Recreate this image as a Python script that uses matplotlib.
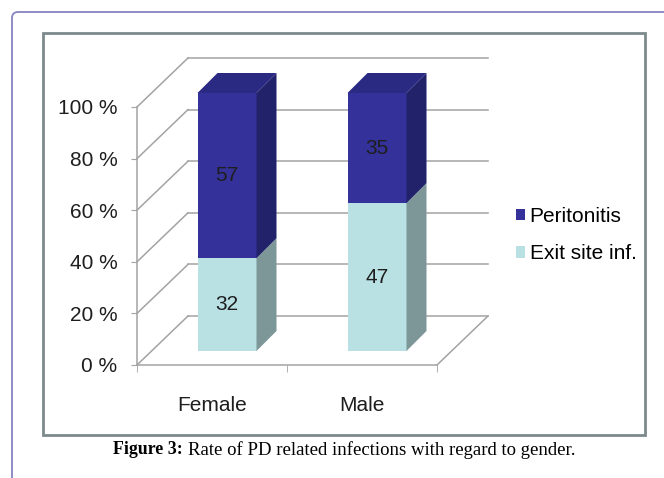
import matplotlib
matplotlib.use("Agg")
import matplotlib.pyplot as plt
from matplotlib.patches import Polygon, Rectangle, FancyBboxPatch, Patch

plt.rcParams['font.family'] = ['Liberation Sans', 'DejaVu Sans']

# data
categories = ['Female', 'Male']
exit_site = [32, 47]
peritonitis = [57, 35]
series_names = ['Peritonitis', 'Exit site inf.']
y_ticks = [0, 20, 40, 60, 80, 100]
y_labels = ['0 %', '20 %', '40 %', '60 %', '80 %', '100 %']

# colours
peri_front, peri_side, peri_top = '#34329a', '#22226a', '#2b2a82'
exit_front, exit_side = '#b9e1e4', '#7d9698'
grid_c = '#a3a3a3'
fs = 15

W, H = 664, 478
fig = plt.figure(figsize=(W / 100, H / 100), dpi=100)

# page frame + chart box (pixel space)
bg = fig.add_axes([0, 0, 1, 1])
bg.set_xlim(0, W)
bg.set_ylim(H, 0)
bg.axis('off')
bg.add_patch(FancyBboxPatch((12, 12), 720, 540, boxstyle='round,pad=0,rounding_size=6',
                            fc='white', ec='#8784c0', lw=1.3))
bg.add_patch(Rectangle((43, 33), 602, 402, fc='white', ec='#7d8a8c', lw=2))

# plot area = front face of the 3d box
ax = fig.add_axes([137 / W, (H - 365) / H, 300 / W, 258 / H])
ax.set_xlim(-0.5, 1.5)
ax.set_ylim(0, 100)
ax.patch.set_alpha(0)

p0 = ax.transData.transform((0, 0))
p1 = ax.transData.transform((1, 100))
sx = p1[0] - p0[0]
sy = (p1[1] - p0[1]) / 100


def dpx(px, py):
    return px / sx, py / sy


wdx, wdy = dpx(51, 49)   # wall depth
box_, boy = dpx(15, 14)  # bar offset inside the box
bdx, bdy = dpx(20, 20)   # bar depth
bw = 59 / sx

# back wall / floor grid
for t in y_ticks:
    ax.plot([-0.5, -0.5 + wdx], [t, t + wdy], color=grid_c, lw=1.1, clip_on=False, zorder=1)
    ax.plot([-0.5 + wdx, 1.5 + wdx], [t + wdy, t + wdy], color=grid_c, lw=1.1, clip_on=False, zorder=1)
ax.plot([1.5, 1.5 + wdx], [0, wdy], color=grid_c, lw=1.1, clip_on=False, zorder=1)

# bars
for i in range(len(categories)):
    tot = exit_site[i] + peritonitis[i]
    pe = exit_site[i] / tot * 100
    x0 = i + box_ - bw / 2
    segs = [(boy, boy + pe, exit_front, exit_side, exit_site[i]),
            (boy + pe, boy + 100, peri_front, peri_side, peritonitis[i])]
    for y0, y1, fc, sc, val in segs:
        ax.bar(x0, y1 - y0, width=bw, bottom=y0, align='edge', color=fc, lw=0,
               zorder=3, clip_on=False)
        ax.add_patch(Polygon([(x0 + bw, y0), (x0 + bw + bdx, y0 + bdy),
                              (x0 + bw + bdx, y1 + bdy), (x0 + bw, y1)],
                             closed=True, fc=sc, lw=0, zorder=3, clip_on=False))
        ax.text(i + box_, (y0 + y1) / 2, str(val), ha='center', va='center',
                fontsize=fs, color='#1e1e1e', zorder=4)
    ax.add_patch(Polygon([(x0, boy + 100), (x0 + bdx, boy + 100 + bdy),
                          (x0 + bw + bdx, boy + 100 + bdy), (x0 + bw, boy + 100)],
                         closed=True, fc=peri_top, lw=0, zorder=3, clip_on=False))

# axes
for s in ['top', 'right']:
    ax.spines[s].set_visible(False)
for s in ['left', 'bottom']:
    ax.spines[s].set_color(grid_c)
    ax.spines[s].set_linewidth(1.1)
ax.set_yticks(y_ticks)
ax.set_yticklabels(y_labels, fontsize=fs, color='#1e1e1e')
ax.tick_params(axis='y', length=4, color=grid_c, pad=10)
ax.set_xticks([0, 1])
ax.set_xticklabels(categories, fontsize=fs, color='#1e1e1e')
ax.set_xticks([-0.5, 0.5, 1.5], minor=True)
ax.tick_params(axis='x', which='major', length=0, pad=22)
ax.tick_params(axis='x', which='minor', length=5, color=grid_c)

# legend
handles = [Patch(fc=peri_front, lw=0), Patch(fc=exit_front, lw=0)]
fig.legend(handles, series_names, loc='center left', bbox_to_anchor=(516 / W, 1 - 235 / H),
           frameon=False, fontsize=fs, handlelength=0.45, handleheight=0.45,
           handletextpad=0.2, labelspacing=0.9, borderpad=0, borderaxespad=0)

# caption
cy = 1 - 450 / H
fig.text(113 / W, cy, 'Figure 3:', fontsize=12.9, fontweight='bold',
         family='Liberation Serif', va='center', ha='left')
fig.text(188 / W, cy, 'Rate of PD related infections with regard to gender.', fontsize=13.5,
         family='Liberation Serif', va='center', ha='left')

fig.savefig('out.png', dpi=100)
